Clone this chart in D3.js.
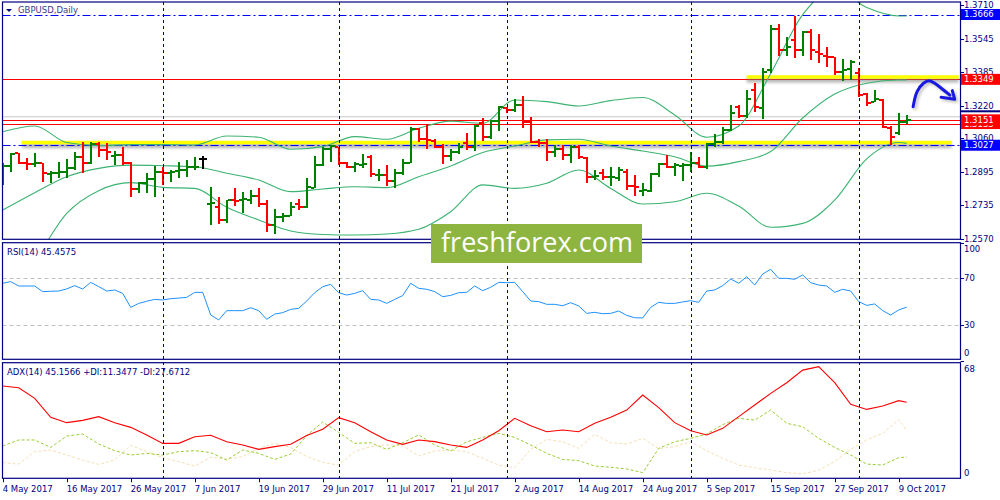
<!DOCTYPE html>
<html>
<head>
<meta charset="utf-8">
<title>GBPUSD Daily</title>
<script src="https://d3js.org/d3.v7.min.js"></script>
<style>
  body { margin: 0; background: #fff; }
  svg { display: block; font-family: "DejaVu Sans", sans-serif; }
</style>
</head>
<body>
<script>
// Daily bars from 4 May 2017, one per trading day
var opens = [1.2922,1.2927,1.2987,1.2938,1.2935,1.2938,1.2886,1.2893,1.2898,1.2914,
  1.2971,1.2938,1.3033,1.3004,1.2974,1.2979,1.2938,1.2813,1.2841,1.2860,
  1.2894,1.2890,1.2903,1.2906,1.2919,1.2958,1.2740,1.2727,1.2662,1.2759,
  1.2759,1.2759,1.2779,1.2740,1.2637,1.2678,1.2681,1.2740,1.2724,1.2816,
  1.2930,1.3007,1.3017,1.2939,1.2919,1.2930,1.2971,1.2881,1.2881,1.2854,
  1.2890,1.2942,1.3105,1.3057,1.3049,1.3017,1.2974,1.2996,1.3040,1.3017,
  1.3137,1.3066,1.3147,1.3207,1.3199,1.3224,1.3142,1.3044,1.3036,1.2996,
  1.3007,1.2979,1.3017,1.2963,1.2870,1.2890,1.2870,1.2865,1.2898,1.2828,
  1.2803,1.2805,1.2886,1.2935,1.2922,1.2927,1.2930,1.2942,1.2922,1.3033,
  1.3045,1.3102,1.3215,1.3170,1.3297,1.3207,1.3395,1.3594,1.3493,1.3541,
  1.3493,1.3582,1.3485,1.3463,1.3457,1.3387,1.3398,1.3378,1.3277,1.3240,
  1.3248,1.3110,1.3088,1.3140];
var highs = [1.2938,1.2988,1.2991,1.2963,1.2987,1.2942,1.2903,1.2943,1.2958,1.2996,
  1.3045,1.3041,1.3041,1.3036,1.3000,1.3020,1.2947,1.2849,1.2890,1.2926,
  1.2922,1.2906,1.2947,1.2955,1.2971,1.2976,1.2824,1.2776,1.2759,1.2820,
  1.2800,1.2808,1.2820,1.2759,1.2714,1.2697,1.2751,1.2762,1.2865,1.2974,
  1.3020,1.3028,1.3017,1.2947,1.2947,1.2983,1.2979,1.2909,1.2930,1.2909,
  1.2958,1.3114,1.3110,1.3126,1.3056,1.3033,1.3007,1.3036,1.3089,1.3126,
  1.3158,1.3150,1.3219,1.3216,1.3251,1.3268,1.3163,1.3056,1.3056,1.3028,
  1.3028,1.3028,1.3028,1.2968,1.2906,1.2909,1.2919,1.2919,1.2909,1.2881,
  1.2841,1.2890,1.2942,1.2979,1.2938,1.2938,1.2996,1.2968,1.3040,1.3082,
  1.3118,1.3224,1.3224,1.3297,1.3333,1.3403,1.3615,1.3620,1.3554,1.3659,
  1.3587,1.3594,1.3571,1.3509,1.3457,1.3447,1.3444,1.3403,1.3282,1.3297,
  1.3251,1.3121,1.3183,1.3175];
var lows = [1.2833,1.2898,1.2935,1.2906,1.2922,1.2849,1.2844,1.2865,1.2865,1.2906,
  1.2890,1.2935,1.2971,1.2955,1.2930,1.2930,1.2776,1.2792,1.2795,1.2772,
  1.2833,1.2849,1.2865,1.2873,1.2906,1.2909,1.2637,1.2642,1.2645,1.2730,
  1.2694,1.2740,1.2727,1.2605,1.2591,1.2653,1.2681,1.2710,1.2719,1.2816,
  1.2926,1.2947,1.2930,1.2914,1.2898,1.2914,1.2870,1.2854,1.2828,1.2817,
  1.2881,1.2938,1.3044,1.3007,1.3012,1.2935,1.2952,1.2984,1.3004,1.3001,
  1.3048,1.3056,1.3098,1.3183,1.3191,1.3110,1.3036,1.3017,1.2952,1.2968,
  1.2955,1.2938,1.2958,1.2844,1.2857,1.2857,1.2828,1.2854,1.2808,1.2779,
  1.2779,1.2800,1.2873,1.2914,1.2877,1.2854,1.2898,1.2914,1.2909,1.3017,
  1.3033,1.3098,1.3159,1.3159,1.3191,1.3154,1.3378,1.3463,1.3463,1.3452,
  1.3463,1.3444,1.3431,1.3411,1.3370,1.3343,1.3346,1.3264,1.3219,1.3240,
  1.3110,1.3028,1.3077,1.3131];
var closes = [1.2927,1.2984,1.2938,1.2935,1.2938,1.2893,1.2893,1.2898,1.2914,1.2971,
  1.2942,1.3033,1.3004,1.2996,1.2979,1.2942,1.2813,1.2841,1.2860,1.2898,
  1.2890,1.2898,1.2906,1.2922,1.2922,1.2958,1.2743,1.2662,1.2759,1.2755,
  1.2762,1.2779,1.2740,1.2637,1.2678,1.2680,1.2727,1.2727,1.2824,1.2930,
  1.3007,1.3024,1.2939,1.2919,1.2935,1.2935,1.2886,1.2883,1.2854,1.2890,
  1.2942,1.3105,1.3057,1.3053,1.3017,1.2974,1.2996,1.3017,1.3017,1.3121,
  1.3066,1.3147,1.3212,1.3199,1.3224,1.3142,1.3041,1.3040,1.2996,1.3007,
  1.2979,1.3017,1.2968,1.2873,1.2875,1.2873,1.2873,1.2906,1.2828,1.2825,
  1.2807,1.2886,1.2935,1.2922,1.2930,1.2930,1.2942,1.2922,1.3033,1.3045,
  1.3102,1.3183,1.3170,1.3251,1.3212,1.3387,1.3594,1.3493,1.3509,1.3493,
  1.3582,1.3493,1.3473,1.3457,1.3387,1.3395,1.3435,1.3272,1.3235,1.3251,
  1.3118,1.3069,1.3142,1.3151];

// Bollinger bands (20), read every 4 bars
var bandBars = [0,4,8,12,16,20,24,28,32,36,40,44,48,52,56,60,64,68,72,76,80,84,88,92,96,100,104,108,112,113];
var bandUpper = [1.3093,1.3121,1.3040,1.3025,1.3030,1.3030,1.3028,1.3072,1.3066,1.3007,
  1.3020,1.3069,1.3056,1.3110,1.3145,1.3134,1.3248,1.3240,1.3219,1.3245,
  1.3260,1.3175,1.3066,1.3121,1.3378,1.3665,1.3790,1.3700,1.3659,1.3659];
var bandMiddle = [1.2710,1.2795,1.2873,1.2914,1.2930,1.2927,1.2922,1.2890,1.2857,1.2800,
  1.2813,1.2824,1.2820,1.2873,1.2925,1.2991,1.3023,1.3053,1.3056,1.3023,
  1.2999,1.2971,1.2925,1.2947,1.2996,1.3160,1.3277,1.3330,1.3346,1.3346];
var bandLower = [1.2327,1.2469,1.2694,1.2805,1.2844,1.2821,1.2816,1.2724,1.2662,1.2608,
  1.2591,1.2588,1.2593,1.2616,1.2702,1.2833,1.2816,1.2841,1.2906,1.2816,
  1.2740,1.2751,1.2792,1.2730,1.2626,1.2645,1.2759,1.2960,1.3040,1.3036];

// RSI(14), one value per bar
var rsi = [65.8,67.2,63.5,63.5,63.5,58.7,59.0,59.2,61.0,63.8,
  60.9,66.6,63.0,59.2,60.1,57.2,45.3,48.7,50.5,52.1,
  51.6,52.7,53.2,53.8,58.1,58.1,38.8,34.6,42.5,42.5,
  42.5,45.0,42.5,35.1,39.6,40.8,43.6,44.5,50.7,57.8,
  62.9,64.9,57.8,55.8,57.2,59.5,52.1,51.6,48.7,52.1,
  55.3,65.8,61.5,60.7,58.7,54.4,55.5,57.8,58.1,63.5,
  59.5,62.4,66.6,66.3,66.6,58.7,50.7,50.2,47.9,47.9,
  46.7,49.3,46.5,40.2,41.1,39.9,40.2,42.2,38.5,36.5,
  36.3,45.3,49.6,48.7,48.7,49.9,51.0,49.6,59.2,60.1,
  63.8,69.4,65.8,71.4,64.3,73.7,77.7,70.0,70.0,69.2,
  72.9,66.3,64.3,63.5,58.1,60.7,59.2,50.2,47.0,48.2,
  42.5,38.8,43.1,45.5];
var rsiLevels = [70, 30];
var rsiTicks = [100, 70, 30, 0];

// ADX(14), read every 2 bars
var adxBars = d3.range(0, 113, 2).concat([113]);
var adx = [55.3,54.2,47.6,35.9,32.6,34.0,36.3,32.6,29.7,25.0,
  19.8,19.8,23.9,24.8,20.8,18.8,16.1,17.8,19.2,24.6,
  28.5,35.7,32.6,27.0,21.9,19.2,21.9,20.9,18.8,17.3,
  21.9,27.6,35.3,30.7,27.0,28.1,27.0,32.2,35.9,40.4,
  49.7,41.9,32.6,27.6,25.0,29.1,36.3,43.5,50.7,57.3,
  65.1,67.2,57.3,43.9,40.8,42.9,46.2,45.2];
var plusDI = [18.2,21.9,21.9,17.3,24.3,25.6,19.4,15.3,12.6,13.6,
  12.6,14.7,15.3,14.1,9.5,15.7,13.6,9.9,13.2,24.6,
  33.0,26.6,19.8,20.2,16.1,20.2,25.0,18.8,15.1,20.8,
  23.5,26.0,23.5,18.8,13.6,9.9,9.1,5.8,5.0,4.0,
  1.7,16.7,20.8,22.9,25.6,31.4,35.3,34.2,40.4,32.2,
  30.1,22.9,17.3,12.6,7.0,6.4,11.0,11.3];
var minusDI = [7.9,7.0,14.7,15.7,12.6,9.5,6.8,9.5,18.6,14.7,
  11.0,8.5,5.8,11.2,9.9,11.6,16.7,19.8,17.3,11.6,
  8.1,6.4,14.7,17.8,18.8,18.4,12.0,15.1,15.7,14.7,
  10.5,6.4,4.8,16.1,22.3,20.8,16.7,25.4,20.2,19.4,
  22.9,16.5,17.8,20.8,15.3,10.5,6.4,4.8,3.3,1.7,
  0.9,3.3,8.5,16.1,21.9,26.0,34.6,27.7];
var adxTicks = [68, 0];

// price axis, drawn levels and markers
var priceTicks = [1.3710,1.3545,1.3385,1.3220,1.3060,1.2895,1.2735,1.2570];
var dashLevels = [1.3666, 1.3027];
var redLevels = [1.3349, 1.3151, 1.3133];
var bidLevel = 1.3166;
var markerPrices = [1.3666, 1.3349, 1.3133, 1.3151, 1.3027];
var zoneLines = [{from: 93, to: 119.5, p: 1.3361}, {from: 2.4, to: 118.6, p: 1.3040}];
var arrowCurve = [[113.8,1.3215],[114.3,1.3289],[115.1,1.3330],[115.8,1.3342],[116.5,1.3330],[117.6,1.3297],[118.4,1.3272]];
var arrowHead = [[117.3,1.3262],[119.0,1.3252],[118.7,1.3294]];

// time axis
var dateLabels = ["4 May 2017","16 May 2017","26 May 2017","7 Jun 2017","19 Jun 2017","29 Jun 2017",
  "11 Jul 2017","21 Jul 2017","2 Aug 2017","14 Aug 2017","24 Aug 2017","5 Sep 2017",
  "15 Sep 2017","27 Sep 2017","9 Oct 2017"];
var dateBars = [0,8,16,24,32,40,48,56,64,72,80,88,96,104,112];
var monthStarts = [20, 42, 63, 86, 107];

//Layout
var left = 2.5, right = 960.5;
var panels = {
  main: {top: 2, bottom: 239.3},
  rsi: {top: 242.7, bottom: 359.3},
  adx: {top: 362.7, bottom: 478.3}
};
var navy = "#000080";

var x = d3.scaleLinear().domain([0, 113]).range([2.7, 906.7]);
var yMain = d3.scaleLinear().domain([1.25672, 1.37271]).range([239.3, 2]);
var yRsi = d3.scaleLinear().domain([0, 100]).range([360.6, 243.1]);
var yAdx = d3.scaleLinear().domain([0, 68]).range([475.4, 365.4]);

var svg = d3.select("body").append("svg")
  .attr("width", 1000)
  .attr("height", 500);

var defs = svg.append("defs");
Object.keys(panels).forEach(function(k) {
  defs.append("clipPath").attr("id", "clip-" + k)
    .append("rect")
    .attr("x", left).attr("y", panels[k].top)
    .attr("width", right - left).attr("height", panels[k].bottom - panels[k].top);
});
defs.append("filter").attr("id", "blur")
  .attr("filterUnits", "userSpaceOnUse")
  .attr("x", 0).attr("y", 0).attr("width", 1000).attr("height", 500)
  .append("feGaussianBlur").attr("stdDeviation", 1.8);

var main = svg.append("g").attr("clip-path", "url(#clip-main)");
var rsiG = svg.append("g").attr("clip-path", "url(#clip-rsi)");
var adxG = svg.append("g").attr("clip-path", "url(#clip-adx)");

//Month separators
svg.append("g").selectAll("line")
  .data(monthStarts)
  .enter().append("line")
  .attr("x1", d => Math.round(x(d)) + 0.5).attr("x2", d => Math.round(x(d)) + 0.5)
  .attr("y1", panels.main.top).attr("y2", panels.adx.bottom)
  .attr("stroke", navy).attr("stroke-dasharray", "3,3");

//Horizontal levels
main.selectAll("line.bid")
  .data([bidLevel]).enter().append("line").attr("class", "bid")
  .attr("x1", left).attr("x2", right)
  .attr("y1", d => yMain(d)).attr("y2", d => yMain(d))
  .attr("stroke", "#c8c8c8");
main.selectAll("line.red")
  .data(redLevels).enter().append("line").attr("class", "red")
  .attr("x1", left).attr("x2", right)
  .attr("y1", d => Math.round(yMain(d)) + 0.5).attr("y2", d => Math.round(yMain(d)) + 0.5)
  .attr("stroke", "#ff0000");

//Yellow zones with soft shadow
main.selectAll("line.shadow")
  .data(zoneLines).enter().append("line").attr("class", "shadow")
  .attr("x1", d => x(d.from)).attr("x2", d => Math.min(x(d.to), right))
  .attr("y1", d => yMain(d.p) + 3).attr("y2", d => yMain(d.p) + 3)
  .attr("stroke", "#777").attr("stroke-width", 5).attr("opacity", 0.55)
  .attr("filter", "url(#blur)");
main.selectAll("line.zone")
  .data(zoneLines).enter().append("line").attr("class", "zone")
  .attr("x1", d => x(d.from)).attr("x2", d => Math.min(x(d.to), right))
  .attr("y1", d => yMain(d.p)).attr("y2", d => yMain(d.p))
  .attr("stroke", "#ffff00").attr("stroke-width", 3.5);

main.selectAll("line.dash")
  .data(dashLevels).enter().append("line").attr("class", "dash")
  .attr("x1", left).attr("x2", right)
  .attr("y1", d => Math.round(yMain(d)) + 0.5).attr("y2", d => Math.round(yMain(d)) + 0.5)
  .attr("stroke", "#0000ff").attr("stroke-dasharray", "8,3,2,3");

//Bollinger bands
var bandLine = function(vals) {
  return d3.line()
    .x((d, i) => x(bandBars[i]))
    .y(d => yMain(d))
    .curve(d3.curveMonotoneX)(vals);
};
[bandUpper, bandMiddle, bandLower].forEach(function(vals) {
  main.append("path")
    .attr("d", bandLine(vals))
    .attr("fill", "none")
    .attr("stroke", "#3cb371")
    .attr("stroke-width", 1.1);
});

//OHLC bars
var bars = d3.range(closes.length).map(function(i) {
  return {i: i, o: opens[i], h: highs[i], l: lows[i], c: closes[i]};
});
var barColor = d => d.c > d.o ? "#008000" : (d.c < d.o ? "#ff0000" : "#000000");
var barG = main.append("g").attr("shape-rendering", "crispEdges");
var bar = barG.selectAll("g").data(bars).enter().append("g").attr("fill", barColor);
bar.append("rect")
  .attr("x", d => Math.round(x(d.i)) - 1).attr("width", 2)
  .attr("y", d => Math.round(yMain(d.h)))
  .attr("height", d => Math.max(1, Math.round(yMain(d.l)) - Math.round(yMain(d.h))));
bar.append("rect")
  .attr("x", d => Math.round(x(d.i)) - 4).attr("width", 3)
  .attr("y", d => Math.round(yMain(d.o)) - 1).attr("height", 2);
bar.append("rect")
  .attr("x", d => Math.round(x(d.i)) + 1).attr("width", 3)
  .attr("y", d => Math.round(yMain(d.c)) - 1).attr("height", 2);

//Hand drawn arrow
var arrowG = svg.append("g");
var arrowLine = d3.line().x(d => x(d[0])).y(d => yMain(d[1])).curve(d3.curveCatmullRom);
var headPts = [arrowHead[0], arrowHead[1], arrowHead[2]];
[["#999", 2, 0.6, "url(#blur)"], ["#1818e0", 0, 1, null]].forEach(function(s) {
  var g = arrowG.append("g")
    .attr("transform", "translate(" + s[1] + "," + s[1] + ")")
    .attr("opacity", s[2]).attr("filter", s[3]);
  g.append("path").attr("d", arrowLine(arrowCurve))
    .attr("fill", "none").attr("stroke", s[0]).attr("stroke-width", 3)
    .attr("stroke-linecap", "round");
  g.append("path").attr("d", d3.line().x(d => x(d[0])).y(d => yMain(d[1]))(headPts))
    .attr("fill", "none").attr("stroke", s[0]).attr("stroke-width", 3)
    .attr("stroke-linecap", "round").attr("stroke-linejoin", "round");
});

//RSI panel
rsiG.selectAll("line.lvl")
  .data(rsiLevels).enter().append("line")
  .attr("x1", left).attr("x2", right)
  .attr("y1", d => Math.round(yRsi(d)) + 0.5).attr("y2", d => Math.round(yRsi(d)) + 0.5)
  .attr("stroke", "#c0c0c0").attr("stroke-dasharray", "4,3");
rsiG.append("path")
  .attr("d", d3.line().x((d, i) => x(i)).y(d => yRsi(d))(rsi))
  .attr("fill", "none").attr("stroke", "#1e90ff").attr("stroke-width", 1);

//ADX panel
var adxLine = d3.line().x((d, i) => x(adxBars[i])).y(d => yAdx(d));
adxG.append("path").attr("d", adxLine(minusDI))
  .attr("fill", "none").attr("stroke", "#f5deb3").attr("stroke-dasharray", "3,2");
adxG.append("path").attr("d", adxLine(plusDI))
  .attr("fill", "none").attr("stroke", "#9acd32").attr("stroke-dasharray", "3,2");
adxG.append("path").attr("d", adxLine(adx))
  .attr("fill", "none").attr("stroke", "#ff0000").attr("stroke-width", 1.1);

//Panel frames
Object.keys(panels).forEach(function(k) {
  svg.append("rect")
    .attr("x", left).attr("y", panels[k].top)
    .attr("width", right - left).attr("height", panels[k].bottom - panels[k].top)
    .attr("fill", "none").attr("stroke", navy).attr("stroke-width", 1.2);
});

//Right price axis
var axisText = svg.append("g").attr("font-size", "8.5px").attr("fill", navy);
priceTicks.forEach(function(p) {
  var yy = yMain(p);
  svg.append("line").attr("x1", right).attr("x2", right + 3.5)
    .attr("y1", Math.round(yy) + 0.5).attr("y2", Math.round(yy) + 0.5).attr("stroke", navy);
  axisText.append("text").attr("x", 964).attr("y", yy).attr("dy", "0.35em").text(p.toFixed(4));
});
svg.append("rect").attr("x", 961).attr("y", yMain(bidLevel) - 6.5)
  .attr("width", 39).attr("height", 2).attr("fill", navy);
markerPrices.forEach(function(p) {
  var yy = yMain(p);
  var col = dashLevels.indexOf(p) >= 0 ? "#0000ff" : "#ff0000";
  svg.append("rect").attr("x", 961).attr("y", yy - 5.5)
    .attr("width", 39).attr("height", 11).attr("fill", col);
  svg.append("text").attr("x", 964).attr("y", yy).attr("dy", "0.35em")
    .attr("font-size", "8.5px").attr("fill", "#fff").text(p.toFixed(4));
});

//Indicator axes
rsiTicks.forEach(function(v) {
  var yy = Math.max(249, Math.min(353, yRsi(v)));
  svg.append("line").attr("x1", right).attr("x2", right + 3.5)
    .attr("y1", Math.round(yRsi(v)) + 0.5).attr("y2", Math.round(yRsi(v)) + 0.5).attr("stroke", navy);
  axisText.append("text").attr("x", 964).attr("y", yy).attr("dy", "0.35em").text(v);
});
adxTicks.forEach(function(v) {
  var yy = Math.max(369, Math.min(472.7, yAdx(v)));
  axisText.append("text").attr("x", 964).attr("y", yy).attr("dy", "0.35em").text(v);
});

//Time axis
dateBars.forEach(function(b, i) {
  var xx = Math.round(x(b)) + 0.5;
  svg.append("line").attr("x1", xx).attr("x2", xx)
    .attr("y1", panels.adx.bottom).attr("y2", panels.adx.bottom + 4).attr("stroke", navy);
  axisText.append("text").attr("x", x(b)).attr("y", 491.5).text(dateLabels[i]);
});

//Titles
svg.append("path").attr("d", "M6,9L12,9L9,12Z").attr("fill", navy);
axisText.append("text").attr("x", 18).attr("y", 13).attr("fill", "#3a3a8c").text("GBPUSD,Daily");
axisText.append("text").attr("x", 7).attr("y", 254.5).text("RSI(14) 45.4575");
axisText.append("text").attr("x", 7).attr("y", 374.5).text("ADX(14) 45.1566 +DI:11.3477 -DI:27.6712");

//Watermark
svg.append("rect").attr("x", 431).attr("y", 224).attr("width", 211).attr("height", 39)
  .attr("fill", "#8db53f");
svg.append("text").attr("x", 441).attr("y", 251.5)
  .attr("font-family", "'Open Sans', sans-serif").attr("font-size", "27px")
  .attr("fill", "#fff").attr("textLength", 192).attr("lengthAdjust", "spacingAndGlyphs")
  .text("freshforex.com");
</script>
</body>
</html>
